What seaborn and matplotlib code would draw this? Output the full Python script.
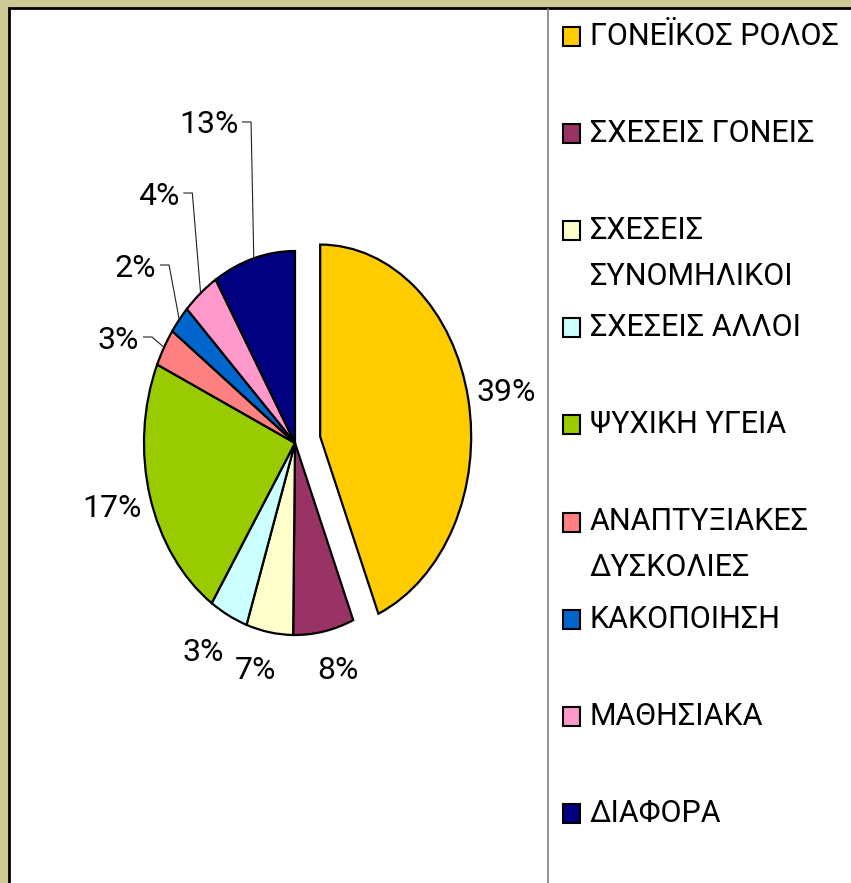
import matplotlib
matplotlib.use("Agg")
import matplotlib.pyplot as plt
import matplotlib.transforms as mtransforms
from matplotlib.patches import Rectangle
from matplotlib.lines import Line2D
import numpy as np
import seaborn as sns

# ==================================================
# Data
# ==================================================
categories = [
    "ΓΟΝΕΪΚΟΣ ΡΟΛΟΣ",
    "ΣΧΕΣΕΙΣ ΓΟΝΕΙΣ",
    "ΣΧΕΣΕΙΣ\nΣΥΝΟΜΗΛΙΚΟΙ",
    "ΣΧΕΣΕΙΣ ΑΛΛΟΙ",
    "ΨΥΧΙΚΗ ΥΓΕΙΑ",
    "ΑΝΑΠΤΥΞΙΑΚΕΣ\nΔΥΣΚΟΛΙΕΣ",
    "ΚΑΚΟΠΟΙΗΣΗ",
    "ΜΑΘΗΣΙΑΚΑ",
    "ΔΙΑΦΟΡΑ",
]
# slice sizes as drawn
shares = [43.7, 6.5, 5.0, 4.1, 22.4, 3.2, 2.4, 3.9, 8.8]
# percentage labels as printed on the chart
pct_labels = ["39%", "8%", "7%", "3%", "17%", "3%", "2%", "4%", "13%"]

colors = ["#FFCC00", "#993366", "#FFFFCC", "#CCFFFF", "#99CC00",
          "#FF8080", "#0066CC", "#FF99CC", "#000080"]

# ==================================================
# Settings
# ==================================================
sns.set_theme(style="white")
plt.rcParams["font.family"] = ["Roboto", "DejaVu Sans"]
label_size = 23
legend_size = 22

W, H = 851, 883
fig = plt.figure(figsize=(W / 100, H / 100), dpi=100)
fig.patch.set_facecolor("#CECA98")

# white chart area with black frame
fig.add_artist(Rectangle((9 / W, -0.1), 2, 1 - 8 / H + 0.1,
                         transform=fig.transFigure, facecolor="white",
                         edgecolor="black", lw=2, zorder=-2))
fig.add_artist(Line2D([548 / W, 548 / W], [0, 1 - 9 / H],
                      transform=fig.transFigure, color="#808080", lw=1.2,
                      zorder=-1))

# ==================================================
# Pie (stretched vertically like the original)
# ==================================================
rx, ry = 151, 192
cx, cy = 295, H - 443
span = 1.5
ax = fig.add_axes([(cx - span * rx) / W, (cy - span * ry) / H,
                   2 * span * rx / W, 2 * span * ry / H])

explode = [0.17] + [0] * (len(shares) - 1)
wedges, _ = ax.pie(
    shares,
    colors=sns.color_palette(colors),
    explode=explode,
    startangle=90,
    counterclock=False,
    wedgeprops=dict(edgecolor="black", linewidth=1.6),
)
ax.set_aspect("auto")
ax.set_xlim(-span, span)
ax.set_ylim(-span, span)
ax.axis("off")

# label layout: centre of text (plain) or elbow of leader line
label_xy = [(1.40, 0.28), (0.285, -1.167), (-0.265, -1.167),
            (-0.609, -1.078), (-1.212, -0.323), (-0.947, 0.552),
            (-0.834, 0.927), (-0.68, 1.302), (-0.291, 1.672)]
has_leader = [False, False, False, False, False, True, True, True, True]

# shift so that y refers to the middle of the digits
base = mtransforms.offset_copy(ax.transData, fig=fig, y=-11.5, units="dots")

for w, txt, (lx, ly), lead in zip(wedges, pct_labels, label_xy, has_leader):
    if not lead:
        ax.text(lx, ly, txt, ha="center", va="baseline", fontsize=label_size,
                color="black", transform=base)
    else:
        mid = np.deg2rad((w.theta1 + w.theta2) / 2)
        ex, ey = np.cos(mid), np.sin(mid)
        ax.plot([lx - 0.06, lx, ex], [ly, ly, ey], color="#222222",
                lw=0.8, solid_capstyle="butt", clip_on=False)
        ax.text(lx - 0.085, ly, txt, ha="right", va="baseline",
                fontsize=label_size, color="black", transform=base)

# ==================================================
# Legend
# ==================================================
step = 97.1
for i, (name, col) in enumerate(zip(categories, colors)):
    baseline = 45 + step * i
    fig.add_artist(Rectangle((563 / W, (H - baseline - 1) / H), 17 / W, 19 / H,
                             transform=fig.transFigure, facecolor=col,
                             edgecolor="black", lw=1.5))
    for j, line in enumerate(name.split("\n")):
        fig.text(590 / W, (H - baseline - 46 * j) / H, line, ha="left",
                 va="baseline", fontsize=legend_size, color="black")

plt.savefig("out.png", dpi=100)
